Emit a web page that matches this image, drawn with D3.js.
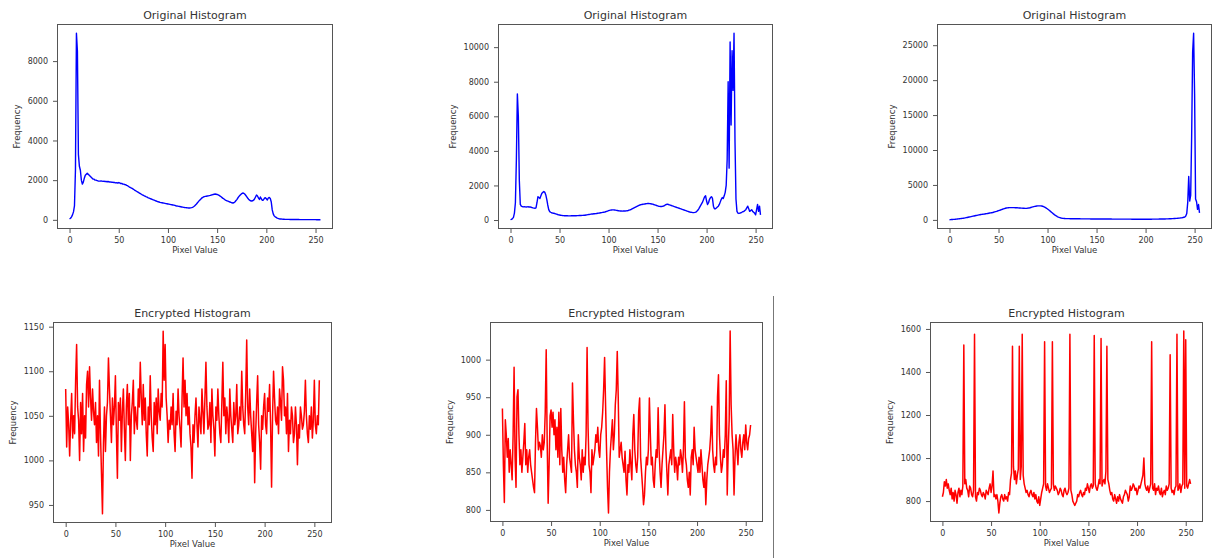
<!DOCTYPE html>
<html>
<head>
<meta charset="utf-8">
<script src="https://cdn.jsdelivr.net/npm/d3@7"></script>
<style>
  body { margin: 0; background: #fff; }
  svg { display: block; font-family: "DejaVu Sans", sans-serif; }
</style>
</head>
<body>
<svg id="chart" width="1213" height="558"></svg>
<script>
// DATA - tick labels and titles
var xTicks = [0, 50, 100, 150, 200, 250];
var yTicksOrig1 = [0, 2000, 4000, 6000, 8000];
var yTicksOrig2 = [0, 2000, 4000, 6000, 8000, 10000];
var yTicksOrig3 = [0, 5000, 10000, 15000, 20000, 25000];
var yTicksEnc1 = [950, 1000, 1050, 1100, 1150];
var yTicksEnc2 = [800, 850, 900, 950, 1000];
var yTicksEnc3 = [800, 1000, 1200, 1400, 1600];
var titleOrig = "Original Histogram";
var titleEnc = "Encrypted Histogram";
var xLabel = "Pixel Value";
var yLabel = "Frequency";

// DATA - 256 bins per histogram
var original1 = [
    50, 80, 150, 250, 400, 700, 2500, 9400, 8500, 3300, 2700, 2500, 2000, 1800, 1900, 2100,
    2250, 2300, 2350, 2300, 2250, 2200, 2150, 2100, 2050, 2050, 2000, 2000, 1980, 1960, 1950, 1950,
    1960, 1950, 1940, 1950, 1930, 1940, 1920, 1930, 1920, 1900, 1910, 1890, 1900, 1880, 1880, 1860,
    1870, 1850, 1880, 1860, 1830, 1840, 1800, 1800, 1780, 1770, 1740, 1720, 1680, 1650, 1620, 1600,
    1570, 1540, 1500, 1470, 1440, 1410, 1380, 1350, 1320, 1290, 1260, 1240, 1210, 1190, 1160, 1140,
    1110, 1090, 1070, 1050, 1030, 1010, 990, 970, 950, 930, 910, 900, 880, 870, 860, 850,
    840, 830, 820, 810, 800, 790, 780, 770, 760, 750, 740, 725, 710, 700, 690, 680,
    670, 660, 650, 640, 630, 620, 615, 610, 605, 600, 600, 605, 615, 630, 660, 700,
    750, 800, 860, 920, 980, 1030, 1080, 1120, 1150, 1170, 1180, 1190, 1200, 1210, 1220, 1230,
    1250, 1260, 1280, 1290, 1300, 1290, 1280, 1260, 1230, 1200, 1160, 1120, 1080, 1050, 1010, 980,
    960, 940, 920, 900, 880, 860, 850, 860, 900, 960, 1020, 1100, 1170, 1230, 1280, 1320,
    1350, 1340, 1300, 1240, 1170, 1100, 1040, 990, 960, 950, 960, 990, 1050, 1150, 1250, 1200,
    1100, 1030, 1150, 1050, 980, 1000, 1080, 1120, 1060, 1000, 1100, 1130, 1080, 900, 500, 300,
    200, 150, 120, 90, 70, 55, 45, 40, 35, 30, 28, 26, 25, 24, 22, 21,
    20, 19, 18, 18, 17, 16, 15, 15, 14, 14, 13, 13, 12, 12, 12, 11,
    11, 11, 10, 10, 10, 10, 10, 9, 9, 9, 9, 8, 8, 8, 8, 8
];

var original2 = [
    20, 40, 80, 150, 400, 1000, 3500, 7300, 6000, 2300, 900, 800, 780, 760, 770, 760,
    750, 760, 770, 750, 760, 740, 720, 700, 690, 680, 700, 1000, 1350, 1300, 1250, 1400,
    1550, 1600, 1650, 1600, 1450, 1200, 870, 600, 490, 450, 420, 400, 390, 380, 360, 340,
    320, 300, 290, 280, 270, 260, 255, 250, 250, 245, 245, 240, 240, 240, 245, 245,
    245, 250, 250, 250, 255, 255, 260, 260, 265, 270, 270, 275, 280, 290, 300, 310,
    320, 330, 340, 345, 350, 360, 365, 370, 380, 390, 400, 410, 420, 430, 440, 450,
    460, 480, 500, 520, 540, 560, 570, 580, 590, 590, 580, 570, 560, 550, 540, 530,
    520, 520, 515, 520, 520, 525, 530, 540, 550, 570, 590, 610, 640, 670, 700, 730,
    760, 790, 820, 850, 870, 890, 900, 910, 920, 930, 940, 950, 960, 960, 950, 940,
    930, 920, 900, 880, 860, 840, 820, 800, 790, 780, 780, 790, 810, 840, 870, 900,
    920, 900, 880, 860, 840, 820, 800, 780, 760, 740, 720, 700, 680, 660, 640, 620,
    600, 580, 560, 540, 520, 500, 480, 460, 450, 440, 430, 430, 440, 460, 500, 560,
    650, 750, 850, 950, 1050, 1200, 1350, 1400, 1100, 900, 1000, 1200, 1300, 1350, 1250, 800,
    650, 650, 700, 750, 800, 900, 1050, 1200, 1300, 1250, 1400, 1600, 2000, 3500, 8000, 3000,
    10300, 5500, 9800, 7500, 10800, 4500, 1200, 500, 400, 380, 400, 420, 450, 480, 500, 550,
    600, 700, 800, 650, 500, 550, 600, 500, 450, 400, 300, 600, 900, 500, 800, 300
];

var original3 = [
    30, 40, 50, 60, 70, 80, 100, 110, 130, 140, 160, 180, 200, 220, 240, 260,
    290, 320, 350, 380, 410, 440, 470, 500, 530, 560, 590, 620, 650, 680, 710, 740,
    770, 790, 810, 830, 850, 870, 890, 920, 950, 980, 1000, 1030, 1060, 1100, 1140, 1180,
    1220, 1270, 1320, 1370, 1420, 1470, 1520, 1570, 1620, 1660, 1700, 1720, 1740, 1750, 1760, 1760,
    1750, 1760, 1750, 1740, 1740, 1730, 1720, 1710, 1700, 1690, 1680, 1670, 1660, 1650, 1650, 1660,
    1680, 1710, 1740, 1780, 1820, 1860, 1900, 1930, 1960, 1980, 2000, 2010, 2010, 2000, 1980, 1950,
    1900, 1830, 1750, 1660, 1560, 1450, 1340, 1220, 1100, 980, 860, 750, 650, 560, 480, 410,
    350, 300, 260, 230, 210, 200, 190, 185, 180, 178, 175, 172, 170, 168, 166, 165,
    165, 162, 160, 158, 157, 155, 152, 150, 149, 148, 146, 145, 144, 142, 140, 139,
    138, 137, 135, 134, 133, 131, 130, 129, 128, 128, 127, 126, 125, 124, 123, 122,
    121, 120, 120, 119, 118, 117, 116, 115, 115, 114, 113, 112, 112, 111, 110, 110,
    109, 108, 108, 107, 106, 106, 105, 104, 104, 103, 102, 102, 101, 101, 100, 100,
    100, 99, 99, 98, 98, 98, 97, 97, 97, 98, 98, 99, 100, 101, 102, 104,
    105, 107, 109, 111, 113, 115, 118, 121, 124, 127, 130, 134, 138, 142, 147, 152,
    158, 164, 170, 177, 185, 193, 202, 212, 223, 235, 250, 265, 285, 310, 340, 380,
    420, 550, 900, 2500, 6200, 2700, 3500, 12000, 24000, 26700, 18000, 3000, 2600, 1500, 2200, 1000
];

var encrypted1 = [
    1080, 1015, 1060, 1040, 1005, 1045, 1075, 1025, 1050, 1030, 1090, 1130, 1060, 1045, 1000, 1065,
    1030, 1075, 1010, 1050, 1025, 1085, 1100, 1060, 1105, 1070, 1045, 1080, 1055, 1040, 1065, 1020,
    1050, 1005, 1090, 1030, 985, 940, 1020, 1060, 1010, 1050, 1065, 1115, 1080, 1050, 1020, 1070,
    1040, 1060, 1095, 1030, 980, 1065, 1045, 1070, 1010, 1055, 1080, 1035, 1000, 1060, 1085, 1040,
    1075, 1000, 1050, 1065, 1090, 1030, 1060, 1045, 1035, 1080, 1060, 1110, 1070, 1040, 1085, 1045,
    1070, 1030, 1005, 1060, 1040, 1095, 1050, 1025, 1010, 1065, 1040, 1070, 1030, 1080, 1055, 1045,
    1075, 1060, 1145, 1090, 1130, 1070, 1050, 1020, 1045, 1035, 1060, 1040, 1075, 1030, 1010, 1055,
    1040, 1080, 1050, 1035, 1015, 1070, 1115, 1060, 1090, 1050, 1075, 1040, 1060, 1030, 1015, 980,
    1040, 1020, 1050, 1070, 1040, 1015, 1060, 1045, 1030, 1080, 1055, 1030, 1070, 1110, 1060, 1035,
    1040, 1065, 1020, 1080, 1050, 1035, 1005, 1060, 1045, 1080, 1050, 1030, 1020, 1065, 1110, 1050,
    1070, 1030, 1060, 1045, 1020, 1080, 1050, 1035, 1020, 1065, 1040, 1050, 1085, 1030, 1040, 1060,
    1045, 1100, 1060, 1040, 1030, 1075, 1135, 1060, 1040, 1080, 1050, 1030, 1010, 1055, 975, 1030,
    1065, 1095, 1040, 1020, 990, 1050, 1035, 1060, 1075, 1040, 1030, 1070, 1055, 1085, 1040, 970,
    1050, 1100, 1070, 1045, 1040, 1060, 1030, 1080, 1065, 1045, 1105, 1090, 1050, 1060, 1030, 1075,
    1010, 1045, 1030, 1060, 1050, 1020, 1030, 1060, 1040, 995, 1040, 1025, 1060, 1050, 1035, 1040,
    1055, 1090, 1050, 1030, 1020, 1050, 1035, 1060, 1025, 1045, 1090, 1040, 1030, 1050, 1040, 1090
];

var encrypted2 = [
    935, 860, 810, 920, 900, 870, 895, 850, 880, 860, 840, 900, 990, 870, 830, 950,
    960, 900, 860, 880, 850, 870, 890, 915, 860, 880, 850, 870, 880, 860, 850, 840,
    830, 823, 890, 935, 910, 880, 890, 885, 870, 900, 880, 890, 930, 1013, 890, 809,
    860, 925, 933, 910, 930, 900, 920, 880, 910, 870, 930, 860, 935, 880, 850, 870,
    840, 823, 860, 880, 900, 870, 860, 850, 969, 920, 880, 860, 850, 830, 900, 870,
    860, 840, 880, 850, 870, 860, 900, 1016, 910, 860, 850, 823, 880, 860, 870, 880,
    900, 890, 910, 880, 870, 900, 910, 930, 960, 1003, 940, 880, 830, 796, 850, 880,
    900, 920, 880, 900, 940, 960, 1011, 950, 870, 880, 890, 870, 860, 850, 878, 840,
    820, 860, 850, 880, 860, 840, 900, 927, 880, 860, 850, 870, 930, 949, 870, 850,
    830, 807, 820, 850, 870, 860, 880, 949, 900, 860, 870, 840, 830, 860, 880, 870,
    936, 880, 850, 830, 860, 880, 900, 940, 880, 850, 820, 860, 870, 880, 860, 927,
    880, 850, 870, 860, 840, 870, 860, 880, 870, 850, 880, 944, 870, 860, 840, 830,
    850, 820, 870, 880, 860, 910, 880, 870, 860, 850, 870, 850, 880, 860, 840, 830,
    850, 807, 840, 860, 870, 880, 900, 938, 880, 860, 850, 870, 860, 950, 980, 900,
    870, 850, 860, 880, 870, 900, 972, 820, 880, 920, 1038, 940, 900, 880, 820, 870,
    900, 880, 860, 890, 900, 880, 870, 890, 900, 880, 913, 890, 880, 895, 900, 913
];

var encrypted3 = [
    820, 840, 890, 870, 900, 860, 880, 850, 830, 860, 810, 840, 800, 850, 830, 790,
    840, 860, 820, 850, 830, 870, 1525, 880, 900, 860, 850, 820, 870, 860, 830, 820,
    850, 1575, 820, 800, 840, 830, 860, 850, 830, 820, 840, 830, 810, 850, 840, 830,
    860, 880, 840, 870, 940, 820, 830, 810, 830, 800, 745, 790, 820, 830, 810, 800,
    830, 810, 820, 800, 840, 830, 900, 930, 1520, 960, 900, 940, 880, 920, 950, 1520,
    900, 960, 1575, 920, 880, 860, 840, 850, 830, 820, 840, 850, 830, 820, 840, 810,
    830, 800, 790, 820, 780, 810, 840, 860, 880, 1540, 870, 850, 880, 860, 840, 850,
    860, 1540, 880, 850, 870, 860, 850, 830, 840, 860, 850, 830, 820, 850, 860, 840,
    830, 840, 860, 1575, 850, 830, 800, 790, 780, 790, 800, 830, 820, 840, 850, 830,
    820, 840, 830, 860, 850, 880, 860, 840, 870, 880, 860, 870, 1570, 880, 860, 850,
    870, 900, 880, 1555, 870, 890, 900, 880, 940, 1520, 900, 880, 850, 830, 840, 810,
    800, 830, 810, 790, 820, 800, 830, 810, 800, 790, 820, 830, 850, 840, 830, 800,
    820, 870, 850, 860, 880, 870, 850, 860, 830, 850, 870, 860, 880, 900, 920, 1000,
    880, 860, 850, 870, 840, 860, 880, 1540, 860, 850, 880, 830, 860, 850, 870, 840,
    830, 860, 820, 840, 850, 830, 870, 850, 860, 880, 1480, 860, 840, 850, 830, 860,
    870, 1575, 850, 860, 880, 840, 870, 880, 1590, 860, 1550, 870, 860, 880, 900, 880
];

// LAYOUT
var panels = [
    { title: titleOrig, values: original1, color: "#0000ff", width: 1.4, yTicks: yTicksOrig1, box: { x: 57, y: 24, w: 276, h: 205 } },
    { title: titleOrig, values: original2, color: "#0000ff", width: 1.4, yTicks: yTicksOrig2, box: { x: 498, y: 24, w: 275, h: 205 } },
    { title: titleOrig, values: original3, color: "#0000ff", width: 1.4, yTicks: yTicksOrig3, box: { x: 937, y: 24, w: 275, h: 205 } },
    { title: titleEnc, values: encrypted1, color: "#ff0000", width: 1.5, yTicks: yTicksEnc1, box: { x: 53, y: 322, w: 279, h: 201 } },
    { title: titleEnc, values: encrypted2, color: "#ff0000", width: 1.5, yTicks: yTicksEnc2, box: { x: 490, y: 322, w: 273, h: 200 } },
    { title: titleEnc, values: encrypted3, color: "#ff0000", width: 1.5, yTicks: yTicksEnc3, box: { x: 930, y: 322, w: 273, h: 200 } }
];

const svg = d3.select("#chart");
svg.append("rect").attr("width", 1213).attr("height", 558).attr("fill", "#fff");

// stray figure border line seen in the picture
svg.append("line")
    .attr("x1", 773.5).attr("x2", 773.5)
    .attr("y1", 296).attr("y2", 558)
    .attr("stroke", "#777").attr("stroke-width", 1);

var textColor = "#333";
var spineColor = "#555";

panels.forEach((p, k) => {
    var b = p.box;
    var g = svg.append("g").attr("transform", "translate(" + b.x + "," + b.y + ")");

    // matplotlib style 5% margins
    var x = d3.scaleLinear()
        .domain([-0.05 * 255, 255 * 1.05])
        .range([0, b.w]);
    var ext = d3.extent(p.values);
    var pad = (ext[1] - ext[0]) * 0.05;
    var y = d3.scaleLinear()
        .domain([ext[0] - pad, ext[1] + pad])
        .range([b.h, 0]);

    g.append("clipPath").attr("id", "clip" + k)
        .append("rect").attr("width", b.w).attr("height", b.h);

    g.append("path")
        .datum(p.values)
        .attr("clip-path", "url(#clip" + k + ")")
        .attr("fill", "none")
        .attr("stroke", p.color)
        .attr("stroke-width", p.width)
        .attr("stroke-linejoin", "round")
        .attr("d", d3.line().x((d, i) => x(i)).y(d => y(d)));

    var xAxis = g.append("g")
        .attr("transform", "translate(0," + b.h + ")")
        .call(d3.axisBottom(x).tickValues(xTicks).tickFormat(d3.format("d")).tickSize(4).tickSizeOuter(0).tickPadding(4));
    var yAxis = g.append("g")
        .call(d3.axisLeft(y).tickValues(p.yTicks).tickFormat(d3.format("d")).tickSize(4).tickSizeOuter(0).tickPadding(5));

    [xAxis, yAxis].forEach(a => {
        a.select(".domain").remove();
        a.selectAll(".tick line").attr("stroke", spineColor);
        a.selectAll(".tick text")
            .attr("fill", textColor)
            .style("font-family", "DejaVu Sans")
            .style("font-size", "8px");
    });

    g.append("rect")
        .attr("x", 0.5).attr("y", 0.5)
        .attr("width", b.w - 1).attr("height", b.h - 1)
        .attr("fill", "none")
        .attr("stroke", spineColor)
        .attr("stroke-width", 1);

    // widest y tick label decides where the y label goes
    var maxW = 0;
    yAxis.selectAll(".tick text").each(function () { maxW = Math.max(maxW, this.getBBox().width); });

    g.append("text")
        .attr("x", b.w / 2).attr("y", -5)
        .attr("text-anchor", "middle")
        .attr("fill", textColor)
        .style("font-size", "11px")
        .text(p.title);

    g.append("text")
        .attr("x", b.w / 2).attr("y", b.h + 24)
        .attr("text-anchor", "middle")
        .attr("fill", textColor)
        .style("font-size", "8.5px")
        .text(xLabel);

    g.append("text")
        .attr("transform", "translate(" + (-9 - maxW - 8) + "," + (b.h / 2) + ") rotate(-90)")
        .attr("text-anchor", "middle")
        .attr("fill", textColor)
        .style("font-size", "8.5px")
        .text(yLabel);
});
</script>
</body>
</html>
